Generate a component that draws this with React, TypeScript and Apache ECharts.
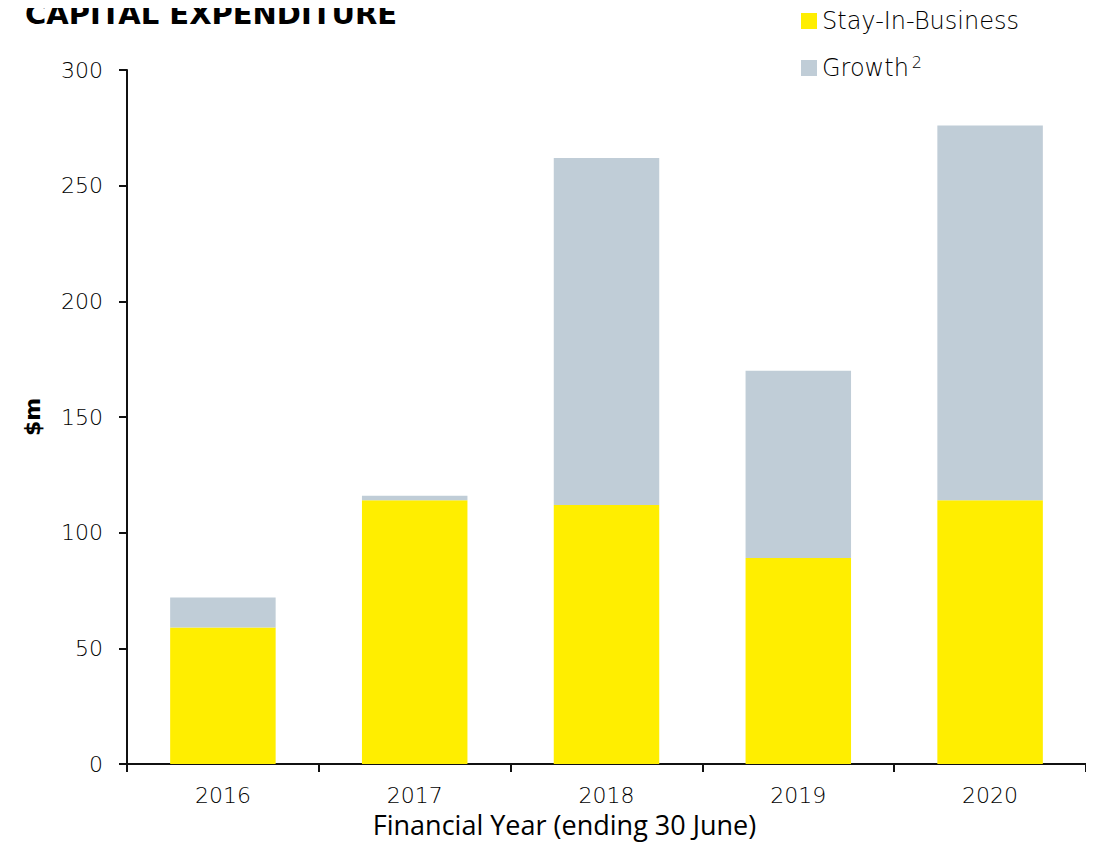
import React, { useEffect, useRef } from "react";
import * as echarts from "echarts";

const categories = ["2016", "2017", "2018", "2019", "2020"];
const stayInBusiness = [59, 114, 112, 89, 114];
const growth = [13, 2, 150, 81, 162];
const yTicks = { min: 0, max: 300, interval: 50 };

const LIGHT = "'DejaVu Sans', 'Open Sans', sans-serif";
const NAME = "'Open Sans', 'Noto Sans', sans-serif";
const BOLD = "'DejaVu Sans', 'Open Sans', sans-serif";

export default function App() {
  const ref = useRef<HTMLDivElement>(null);
  useEffect(() => {
    if (!ref.current) return;
    const chart = echarts.init(ref.current, undefined, { renderer: "svg" });
    chart.setOption({
      animation: false,
      backgroundColor: "#ffffff",
      textStyle: { fontFamily: LIGHT },
      title: {
        text: "CAPITAL EXPENDITURE",
        left: 20,
        top: -6,
        textStyle: { fontFamily: BOLD, fontSize: 29, fontWeight: "bold", color: "#000" },
      },
      legend: {
        orient: "vertical",
        left: 796,
        top: 4,
        itemWidth: 16,
        itemHeight: 16,
        itemGap: 21,
        icon: "rect",
        data: ["Stay-In-Business", "Growth"],
        formatter: (name: string) => (name === "Growth" ? "Growth{sup|2}" : name),
        textStyle: {
          fontFamily: LIGHT,
          fontSize: 24,
          fontWeight: 200,
          color: "#000",
          rich: {
            sup: { fontSize: 16, fontWeight: 200, verticalAlign: "top", padding: [0, 0, 12, 3], color: "#000", fontFamily: LIGHT },
          },
        },
      },
      grid: { left: 127, right: 8, top: 70, bottom: 86, containLabel: false },
      xAxis: {
        type: "category",
        data: categories,
        name: "Financial Year (ending 30 June)",
        nameLocation: "middle",
        nameGap: 46,
        nameTextStyle: { fontFamily: NAME, fontSize: 27, fontWeight: 400, color: "#000", padding: [0, 84, 0, 0] },
        axisLine: { show: true, lineStyle: { color: "#111", width: 2 } },
        axisTick: { show: true, alignWithLabel: false, length: 8, lineStyle: { color: "#111", width: 2 } },
        axisLabel: { margin: 20, fontFamily: LIGHT, fontSize: 22, fontWeight: 200, color: "#000" },
      },
      yAxis: {
        type: "value",
        min: yTicks.min,
        max: yTicks.max,
        interval: yTicks.interval,
        name: "$m",
        nameLocation: "middle",
        nameGap: 84,
        nameRotate: 90,
        nameTextStyle: { fontFamily: BOLD, fontSize: 22, fontWeight: "bold", color: "#000" },
        axisLine: { show: true, lineStyle: { color: "#111", width: 2 } },
        axisTick: { show: true, length: 8, lineStyle: { color: "#111", width: 2 } },
        axisLabel: { margin: 24, fontFamily: LIGHT, fontSize: 22, fontWeight: 200, color: "#000" },
        splitLine: { show: false },
      },
      series: [
        {
          name: "Stay-In-Business",
          type: "bar",
          stack: "capex",
          data: stayInBusiness,
          barWidth: "55%",
          itemStyle: { color: "#FFEE00" },
        },
        {
          name: "Growth",
          type: "bar",
          stack: "capex",
          data: growth,
          barWidth: "55%",
          itemStyle: { color: "#C0CDD7" },
        },
      ],
    });
    return () => chart.dispose();
  }, []);
  return <div ref={ref} style={{ width: 1094, height: 850, margin: -8 }} />;
}
